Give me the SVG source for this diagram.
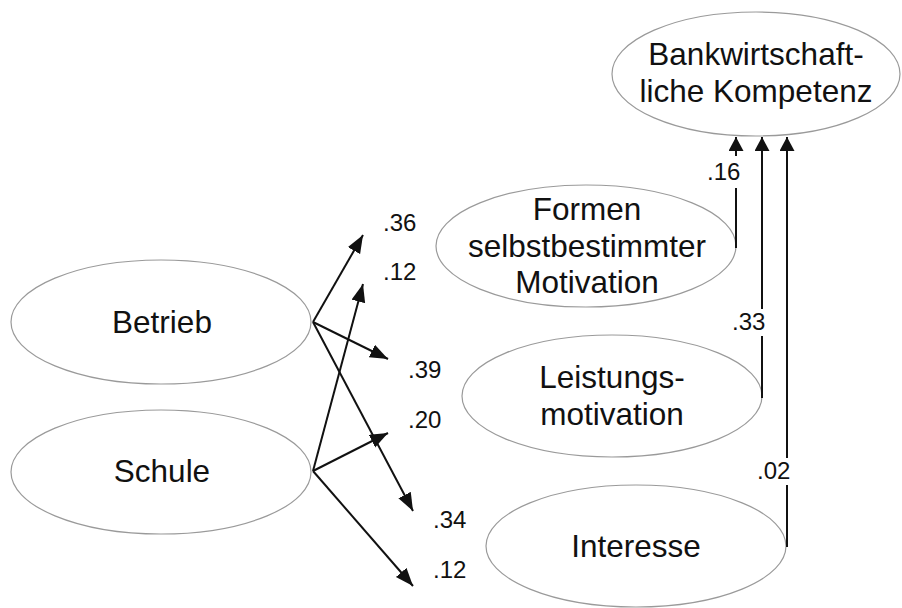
<svg xmlns="http://www.w3.org/2000/svg" width="902" height="608" viewBox="0 0 902 608">
<style>
.node ellipse{fill:#fff;stroke:#9a9a9a;stroke-width:1.2}
.node text{font-family:"Liberation Sans",Arial,sans-serif;font-size:31.5px;fill:#111;text-anchor:middle}
.lbl{font-family:"Liberation Sans",Arial,sans-serif;font-size:24px;fill:#111}
.conn line{stroke:#111;stroke-width:2;fill:none}
</style>
<defs>
<marker id="ah" markerUnits="userSpaceOnUse" markerWidth="19" markerHeight="15" refX="18" refY="7" orient="auto">
<path d="M0,0 L18,7 L0,14 z" fill="#111"/>
</marker>
<marker id="av" markerUnits="userSpaceOnUse" markerWidth="15" markerHeight="16" refX="14" refY="7.5" orient="auto">
<path d="M0,0 L14,7.5 L0,15 z" fill="#111"/>
</marker>
</defs>
<rect width="902" height="608" fill="#fff"/>
<g id="betrieb" class="node"><ellipse cx="161" cy="322" rx="150" ry="62"/><text x="162" y="333">Betrieb</text></g>
<g id="schule" class="node"><ellipse cx="161" cy="472" rx="150" ry="62"/><text x="162" y="482">Schule</text></g>
<g id="kompetenz" class="node"><ellipse cx="756" cy="74" rx="144" ry="62"/><text x="756" y="65">Bankwirtschaft-</text><text x="756" y="102">liche Kompetenz</text></g>
<g id="formen" class="node"><ellipse cx="586" cy="246" rx="150" ry="61"/><text x="587" y="220">Formen</text><text x="587" y="257">selbstbestimmter</text><text x="587" y="293">Motivation</text></g>
<g id="leistung" class="node"><ellipse cx="612" cy="396" rx="150" ry="61"/><text x="612" y="388">Leistungs-</text><text x="612" y="425">motivation</text></g>
<g id="interesse" class="node"><ellipse cx="636" cy="546" rx="150" ry="61"/><text x="636" y="557">Interesse</text></g>
<g id="connectors" class="conn">
<line x1="313" y1="322" x2="363" y2="235" marker-end="url(#ah)"/>
<line x1="313" y1="322" x2="388" y2="359" marker-end="url(#ah)"/>
<line x1="313" y1="322" x2="413" y2="511" marker-end="url(#ah)"/>
<line x1="313" y1="471" x2="363" y2="284" marker-end="url(#ah)"/>
<line x1="313" y1="471" x2="388" y2="433" marker-end="url(#ah)"/>
<line x1="313" y1="471" x2="413" y2="586" marker-end="url(#ah)"/>
<line x1="736" y1="248" x2="736" y2="188"/>
<line x1="736" y1="156" x2="736" y2="137" marker-end="url(#av)"/>
<line x1="762" y1="398" x2="762" y2="336"/>
<line x1="762" y1="309" x2="762" y2="137" marker-end="url(#av)"/>
<line x1="787" y1="547" x2="787" y2="485"/>
<line x1="787" y1="458" x2="787" y2="137" marker-end="url(#av)"/>
</g>
<g id="labels">
<text class="lbl" x="383" y="231">.36</text>
<text class="lbl" x="383" y="280">.12</text>
<text class="lbl" x="408" y="378">.39</text>
<text class="lbl" x="408" y="428">.20</text>
<text class="lbl" x="433" y="528">.34</text>
<text class="lbl" x="433" y="578">.12</text>
<text class="lbl" x="707" y="180">.16</text>
<text class="lbl" x="732" y="330">.33</text>
<text class="lbl" x="757" y="479">.02</text>
</g>
</svg>
